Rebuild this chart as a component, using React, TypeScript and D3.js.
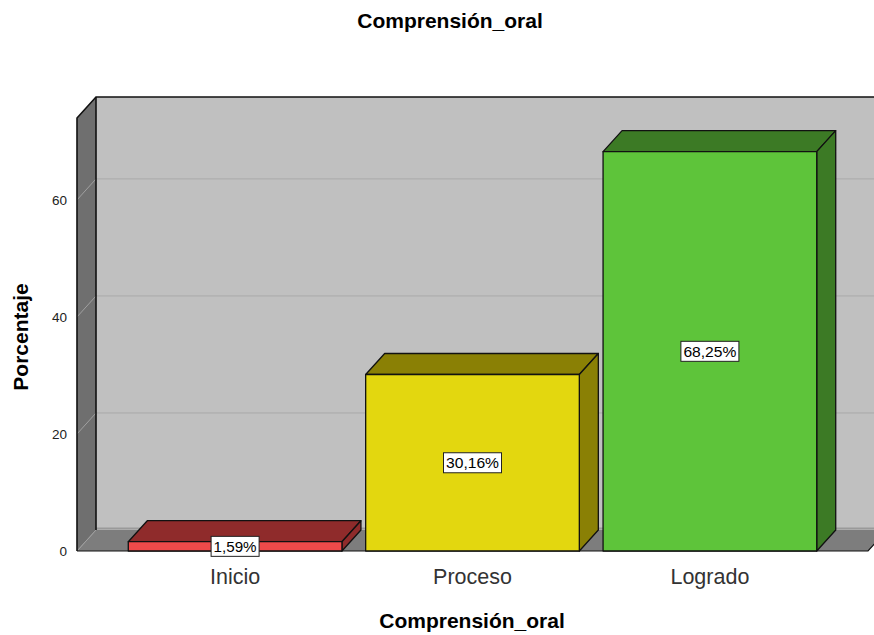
import * as React from 'react'
import * as d3 from 'd3'

const categories = ['Inicio', 'Proceso', 'Logrado']
const values = [1.59, 30.16, 68.25]
const valueLabels = ['1,59%', '30,16%', '68,25%']
const yTicks = [0, 20, 40, 60]

const frontColors = ['#ef4a4a', '#e3d70f', '#5ec43a']
const darkColors = ['#8f2b2b', '#8a8005', '#3c7a25']

const WIDTH = 874
const HEIGHT = 635
// depth offset of the 3d effect
const DX = 19
const DY = -21
const FONT = "'Liberation Sans', Arial, sans-serif"

const x = d3
  .scaleBand<string>()
  .domain(categories)
  .range([77, 868])
  .paddingInner(0.1)
  .paddingOuter(0.216)

const y = d3.scaleLinear().domain([0, 74]).range([551, 118])

function pts(p: [number, number][]) {
  return p.map(d => d.join(',')).join(' ')
}

export default function App() {
  const x0 = x.range()[0]
  const x1 = x.range()[1]
  const yTop = y(74)
  const yBot = y(0)
  const bw = x.bandwidth()

  return (
    <svg
      width={WIDTH}
      height={HEIGHT}
      style={{ position: 'absolute', left: 0, top: 0, background: '#fff' }}
      fontFamily={FONT}
    >
      {/* back wall */}
      <rect
        x={x0 + DX}
        y={yTop + DY}
        width={x1 - x0 + 40}
        height={yBot - yTop}
        fill="#c0c0c0"
      />
      {/* left wall */}
      <polygon
        points={pts([
          [x0, yTop],
          [x0 + DX, yTop + DY],
          [x0 + DX, yBot + DY],
          [x0, yBot]
        ])}
        fill="#6f6f6f"
      />
      {/* floor */}
      <polygon
        points={pts([
          [x0, yBot],
          [x0 + DX, yBot + DY],
          [x1 + DX, yBot + DY],
          [x1, yBot]
        ])}
        fill="#7d7d7d"
      />
      <line
        x1={x0 + DX}
        x2={x1 + DX}
        y1={yBot + DY - 1.5}
        y2={yBot + DY - 1.5}
        stroke="#9a9a9a"
        strokeWidth={2}
      />
      {/* grid lines */}
      {yTicks.slice(1).map(t => (
        <g key={t}>
          <line
            x1={x0 + DX}
            x2={x1 + DX + 40}
            y1={y(t) + DY}
            y2={y(t) + DY}
            stroke="#a9a9a9"
          />
          <line
            x1={x0}
            x2={x0 + DX}
            y1={y(t)}
            y2={y(t) + DY}
            stroke="#a0a0a0"
          />
        </g>
      ))}
      <line x1={x0} x2={x0 + DX} y1={yBot} y2={yBot + DY} stroke="#a0a0a0" />
      {/* wall outlines */}
      <polyline
        points={pts([
          [x0, yBot],
          [x0, yTop],
          [x0 + DX, yTop + DY],
          [x1 + DX + 40, yTop + DY]
        ])}
        fill="none"
        stroke="#111"
        strokeWidth={1.6}
      />
      <line
        x1={x0 + DX}
        x2={x0 + DX}
        y1={yTop + DY}
        y2={yBot + DY}
        stroke="#111"
        strokeWidth={1.6}
      />
      <polyline
        points={pts([
          [x0, yBot],
          [x1, yBot],
          [x1 + DX, yBot + DY]
        ])}
        fill="none"
        stroke="#111"
        strokeWidth={1.2}
      />
      {/* bars */}
      {categories.map((c, i) => {
        const bx0 = x(c) as number
        const bx1 = bx0 + bw
        const yt = y(values[i])
        return (
          <g key={c} stroke="#111" strokeWidth={1.3} strokeLinejoin="round">
            <polygon
              points={pts([
                [bx0, yt],
                [bx0 + DX, yt + DY],
                [bx1 + DX, yt + DY],
                [bx1, yt]
              ])}
              fill={darkColors[i]}
            />
            <polygon
              points={pts([
                [bx1, yt],
                [bx1 + DX, yt + DY],
                [bx1 + DX, yBot + DY],
                [bx1, yBot]
              ])}
              fill={darkColors[i]}
            />
            <rect x={bx0} y={yt} width={bw} height={yBot - yt} fill={frontColors[i]} />
          </g>
        )
      })}
      {/* value labels */}
      {categories.map((c, i) => {
        const cx = (x(c) as number) + bw / 2
        const cy = (y(values[i]) + yBot) / 2
        const w = valueLabels[i].length * 10 - 2
        const tw = w - 5
        return (
          <g key={c}>
            <rect
              x={cx - w / 2}
              y={cy - 10}
              width={w}
              height={20}
              fill="#fff"
              stroke="#222"
              strokeWidth={1}
            />
            <text
              x={cx - tw / 2}
              y={cy + 5.5}
              fontSize={15}
              textLength={tw}
              lengthAdjust="spacingAndGlyphs"
              fill="#000"
            >
              {valueLabels[i]}
            </text>
          </g>
        )
      })}
      {/* y tick labels */}
      {yTicks.map(t => (
        <text
          key={t}
          x={67}
          y={y(t) + 5}
          textAnchor="end"
          fontSize={13.5}
          fill="#222"
        >
          {t}
        </text>
      ))}
      {/* category labels */}
      {categories.map(c => (
        <text
          key={c}
          x={(x(c) as number) + bw / 2}
          y={584}
          textAnchor="middle"
          fontSize={21.5}
          fill="#333"
        >
          {c}
        </text>
      ))}
      <text
        x={450}
        y={28}
        textAnchor="middle"
        fontSize={21}
        fontWeight="bold"
        fill="#000"
      >
        Comprensión_oral
      </text>
      <text
        x={472}
        y={628}
        textAnchor="middle"
        fontSize={21}
        fontWeight="bold"
        fill="#000"
      >
        Comprensión_oral
      </text>
      <text
        transform="translate(28,337) rotate(-90)"
        textAnchor="middle"
        fontSize={21}
        fontWeight="bold"
        fill="#000"
      >
        Porcentaje
      </text>
    </svg>
  )
}
